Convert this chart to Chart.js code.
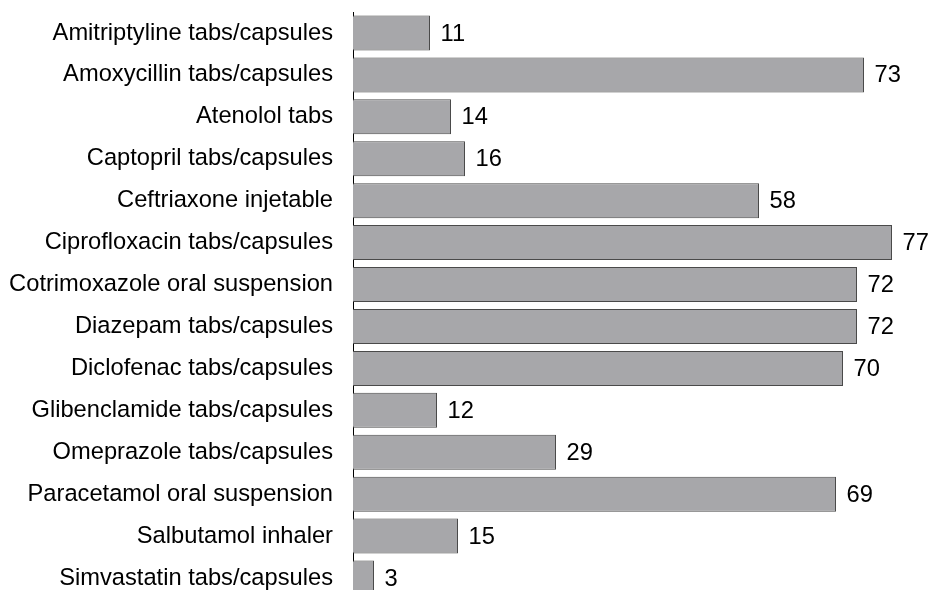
<!DOCTYPE html>
<html><head><meta charset="utf-8">
<script src="https://cdn.jsdelivr.net/npm/chart.js@4/dist/chart.umd.min.js"></script>
<style>html,body{margin:0;padding:0;overflow:hidden;background:#fff;width:929px;height:590px}#wrap{width:929px;height:599px;position:relative}</style>
</head><body><div id="wrap"><canvas id="c"></canvas></div>
<script>
const categories = ["Amitriptyline tabs/capsules","Amoxycillin tabs/capsules","Atenolol tabs","Captopril tabs/capsules","Ceftriaxone injetable","Ciprofloxacin tabs/capsules","Cotrimoxazole oral suspension","Diazepam tabs/capsules","Diclofenac tabs/capsules","Glibenclamide tabs/capsules","Omeprazole tabs/capsules","Paracetamol oral suspension","Salbutamol inhaler","Simvastatin tabs/capsules"];
const values = [11,73,14,16,58,77,72,72,70,12,29,69,15,3];

const FONT = '"Liberation Sans", Arial, sans-serif';
const valueLabels = {
  id:'valueLabels',
  afterDatasetsDraw(chart){
    const ctx = chart.ctx;
    const meta = chart.getDatasetMeta(0);
    ctx.save();
    ctx.font = '23.7px ' + FONT;
    ctx.fillStyle = '#000';
    ctx.textAlign = 'left';
    ctx.textBaseline = 'middle';
    meta.data.forEach((bar,i)=>{
      ctx.fillText(String(values[i]), bar.x + 10.5, bar.y + 1);
    });
    ctx.restore();
  }
};

new Chart(document.getElementById('c'), {
  type:'bar',
  data:{labels:categories, datasets:[{data:values, backgroundColor:'#a7a7aa', borderColor:'#4a4a4a', borderWidth:1, borderSkipped:'left', barPercentage:0.835, categoryPercentage:1}]},
  options:{
    indexAxis:'y', responsive:true, maintainAspectRatio:false, animation:false,
    layout:{padding:{top:12,bottom:0,left:0,right:16}},
    plugins:{legend:{display:false}, tooltip:{enabled:false}},
    scales:{
      x:{display:false, min:0, max:80},
      y:{
        grid:{display:false, drawTicks:false},
        border:{display:true, color:'#000', width:1},
        ticks:{color:'#000', padding:20, font:{size:23.7, family:FONT}},
        afterFit(s){ s.width = 353; s.paddingTop = 0; s.paddingBottom = 0; }
      }
    }
  },
  plugins:[valueLabels]
});
</script></body></html>
